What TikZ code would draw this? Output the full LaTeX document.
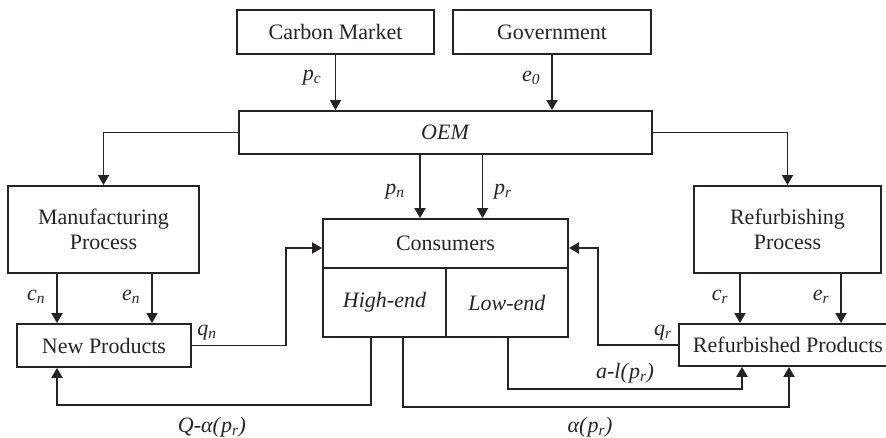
\documentclass[tikz,border=0pt]{standalone}
\usepackage{fontspec}
\setmainfont{Liberation Serif}
\usepackage{tikz}
\usetikzlibrary{arrows.meta}

\definecolor{ink}{RGB}{40,35,35}
\newcommand{\vsub}[2]{\textit{#1}\textsubscript{\textit{#2}}}

\tikzset{
  box/.style={draw=ink, line width=1.8pt, text=ink, align=center, inner sep=0pt,
    font=\fontsize{22}{25}\selectfont},
  flow/.style={draw=ink, line width=1.8pt, -{Triangle[width=11pt,length=10pt]}},
  lbl/.style={text=ink, inner sep=0pt, font=\fontsize{22}{25}\selectfont}
}

\begin{document}
\begin{tikzpicture}[x=1pt, y=-1pt]
  \useasboundingbox (0,0) rectangle (886,438);

  \node[box, minimum width=197pt, minimum height=44pt] (carbon) at (335.5,32) {Carbon Market};
  \node[box, minimum width=198pt, minimum height=44pt] (gov) at (552,32) {Government};
  \node[box, minimum width=413pt, minimum height=43pt] (oem) at (445.5,132.5) {\textit{OEM}};
  \node[box, minimum width=191pt, minimum height=87pt] (manu) at (103.5,229.5) {Manufacturing\\Process};
  \node[box, minimum width=187pt, minimum height=87pt] (refurb) at (787.5,229.5) {Refurbishing\\Process};
  \node[box, minimum width=245pt, minimum height=49pt] (cons) at (445.5,243.5) {Consumers};
  \node[box, minimum width=123pt, minimum height=69pt] (high) at (384.5,302.5) {\textit{High-end}};
  \node[box, minimum width=122pt, minimum height=69pt] (low) at (507,302.5) {\textit{Low-end}};
  \node[box, minimum width=174pt, minimum height=43pt] (newprod) at (104,345.5) {New Products};
  \node[box, minimum width=218pt, minimum height=42pt] (refprod) at (788,345) {Refurbished Products};

  % inputs to the OEM
  \draw[flow] (carbon.south) -- (carbon.south |- oem.north);
  \draw[flow] (gov.south) -- (gov.south |- oem.north);
  \draw[flow] (oem.west) -| (manu.north);
  \draw[flow] (oem.east) -| (refurb.north);
  \draw[flow] ([xshift=-25.5pt]oem.south) -- ([xshift=-25.5pt]cons.north);
  \draw[flow] ([xshift=37pt]oem.south) -- ([xshift=37pt]cons.north);

  % production
  \draw[flow] ([xshift=-46.5pt]manu.south) -- ([xshift=-46.5pt]manu.south |- newprod.north);
  \draw[flow] ([xshift=48.5pt]manu.south) -- ([xshift=48.5pt]manu.south |- newprod.north);
  \draw[flow] ([xshift=-47.5pt]refurb.south) -- ([xshift=-47.5pt]refurb.south |- refprod.north);
  \draw[flow] ([xshift=53.5pt]refurb.south) -- ([xshift=53.5pt]refurb.south |- refprod.north);

  % sales and returns
  \draw[flow] (newprod.east) -- ++(94,0) |- ([yshift=-4.5pt]cons.west);
  \draw[flow] (refprod.west) -- ++(-80,0) |- ([yshift=-4.5pt]cons.east);
  \draw[flow] ([xshift=-13.5pt]high.south) -- ++(0,67) -| ([xshift=-47pt]newprod.south);
  \draw[flow] ([xshift=18.5pt]high.south) -- ++(0,69) -| ([xshift=1pt]refprod.south);
  \draw[flow] ([xshift=1pt]low.south) -- ++(0,51) -| ([xshift=-46pt]refprod.south);

  \node[lbl] (lpc) at (312,78) {\vsub{p}{c}};
  \node[lbl] (le0) at (531,78) {\vsub{e}{0}};
  \node[lbl] (lpn) at (395,192) {\vsub{p}{n}};
  \node[lbl] (lpr) at (503,192) {\vsub{p}{r}};
  \node[lbl] (lcn) at (36,297) {\vsub{c}{n}};
  \node[lbl] (len) at (131,297) {\vsub{e}{n}};
  \node[lbl] (lcr) at (720,297) {\vsub{c}{r}};
  \node[lbl] (ler) at (821,297) {\vsub{e}{r}};
  \node[lbl] (lqn) at (207,333) {\vsub{q}{n}};
  \node[lbl] (lqr) at (663,333) {\vsub{q}{r}};
  \node[lbl] (lal) at (625,373) {\textit{a-l(}\vsub{p}{r}\textit{)}};
  \node[lbl] (lQa) at (212,427) {\textit{Q-α(}\vsub{p}{r}\textit{)}};
  \node[lbl] (lap) at (590,427) {\textit{α(}\vsub{p}{r}\textit{)}};
\end{tikzpicture}
\end{document}
